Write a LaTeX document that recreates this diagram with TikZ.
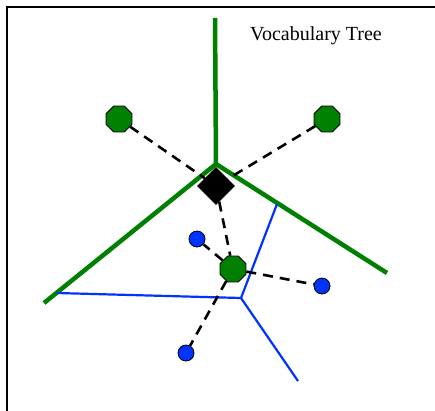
\documentclass[tikz,border=0pt]{standalone}
\usepackage{fontspec}
\setmainfont{Liberation Serif}
\usetikzlibrary{shapes.geometric}
\pgfdeclarelayer{back}
\pgfsetlayers{back,main}
\definecolor{treegreen}{RGB}{0,128,0}
\definecolor{wordblue}{RGB}{0,51,255}
\tikzset{
  greenline/.style={draw=treegreen, line width=4.5pt},
  blueline/.style={draw=wordblue, line width=2.2pt},
  dashline/.style={draw=black, line width=2.6pt, dash pattern=on 10pt off 7pt},
  octnode/.style={regular polygon, regular polygon sides=8, draw=black, line width=0.8pt, fill=treegreen, minimum size=28pt, inner sep=0pt},
  dotnode/.style={circle, draw=black, line width=0.8pt, fill=wordblue, minimum size=16pt, inner sep=0pt},
  querynode/.style={diamond, draw=black, line width=0.8pt, fill=black, minimum width=37pt, minimum height=37pt, inner sep=0pt}
}
\begin{document}
\begin{tikzpicture}[x=1pt,y=-1pt]
\useasboundingbox (0,0) rectangle (435,410);
\draw[line width=2pt] (7,460) -- (7,7) -- (460,7);
% nodes
\node[octnode] (o1) at (119,119) {};
\node[octnode] (o2) at (327,119) {};
\node[octnode] (o3) at (233,269) {};
\node[querynode] (q) at (216,186) {};
\node[dotnode] (d1) at (197,239) {};
\node[dotnode] (d2) at (322,286) {};
\node[dotnode] (d3) at (186,353) {};
\node[font=\fontsize{20}{24}\selectfont] (title) at (316,36) {Vocabulary Tree};
\begin{pgfonlayer}{back}
% tree green boundaries
\coordinate (gc) at (216,164);
\coordinate (gtop) at (215,18);
\coordinate (gleft) at (44,303);
\coordinate (gright) at (387,273);
\draw[greenline] (gtop) -- (gc);
\draw[greenline] (gleft) -- (gc) -- (gright);
% blue boundaries
\coordinate (bc) at (241,298);
\coordinate (bleft) at (57,293);
\coordinate (bup) at (277,204);
\coordinate (bdown) at (298,381);
\draw[blueline] (bleft) -- (bc) -- (bup);
\draw[blueline] (bc) -- (bdown);
% dashed connectors
\draw[dashline] (o1) -- (q);
\draw[dashline] (o2) -- (q);
\draw[dashline] (q) -- (o3);
\draw[dashline] (o3) -- (d1);
\draw[dashline] (o3) -- (d2);
\draw[dashline] (o3) -- (d3);
\end{pgfonlayer}
\end{tikzpicture}
\end{document}
